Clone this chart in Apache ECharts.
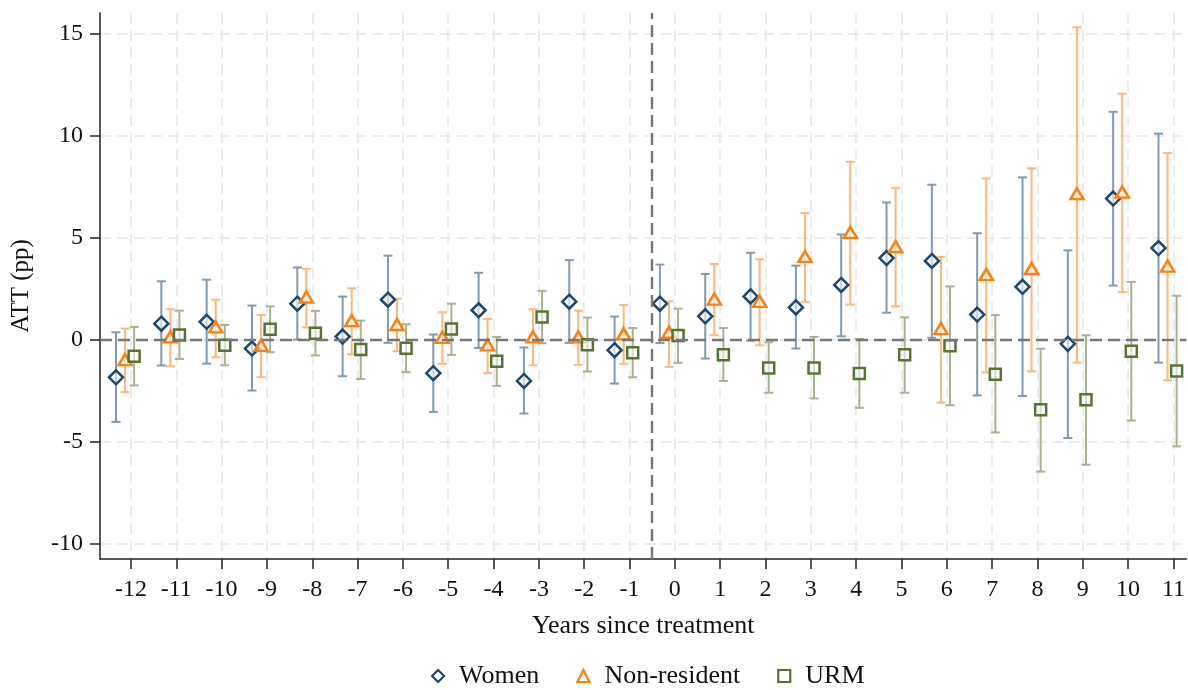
<!DOCTYPE html>
<html><head><meta charset="utf-8">
<script src="https://cdn.jsdelivr.net/npm/echarts@6/dist/echarts.min.js"></script>
<style>html,body{margin:0;padding:0;background:#fff}#c{width:1188px;height:690px}</style>
</head><body><div id="c"></div>
<script>
const years = [-12,-11,-10,-9,-8,-7,-6,-5,-4,-3,-2,-1,0,1,2,3,4,5,6,7,8,9,10,11];
const yTicks = [-10,-5,0,5,10,15];

const womenEst = [-1.85,0.78,0.87,-0.44,1.76,0.15,1.96,-1.65,1.44,-2.03,1.86,-0.52,1.76,1.14,2.12,1.58,2.68,4.00,3.86,1.23,2.59,-0.21,6.92,4.49];
const womenLo  = [-4.04,-1.27,-1.18,-2.50,0.00,-1.80,-0.16,-3.55,-0.41,-3.63,-0.16,-2.16,-0.17,-0.93,-0.05,-0.44,0.16,1.32,0.09,-2.74,-2.77,-4.83,2.65,-1.13];
const womenHi  = [0.36,2.86,2.94,1.67,3.54,2.11,4.12,0.25,3.28,-0.39,3.90,1.13,3.68,3.22,4.26,3.63,5.16,6.73,7.60,5.22,7.96,4.38,11.18,10.11];

const nrEst = [-0.98,0.13,0.62,-0.28,2.09,0.93,0.74,0.11,-0.26,0.13,0.13,0.28,0.36,1.99,1.88,4.08,5.26,4.57,0.54,3.20,3.49,7.16,7.24,3.61];
const nrLo  = [-2.58,-1.31,-0.87,-1.85,0.60,-0.72,-0.57,-1.19,-1.65,-1.26,-1.24,-1.19,-1.34,0.21,-0.28,1.85,1.72,1.63,-3.09,-1.61,-1.56,-1.13,2.33,-2.00];
const nrHi  = [0.54,1.49,1.96,1.21,3.48,2.52,2.01,1.34,1.01,1.49,1.42,1.70,1.88,3.71,3.94,6.21,8.73,7.45,4.06,7.91,8.41,15.33,12.07,9.16];

const urmEst = [-0.82,0.23,-0.28,0.51,0.31,-0.49,-0.42,0.52,-1.06,1.11,-0.25,-0.65,0.20,-0.74,-1.39,-1.39,-1.67,-0.75,-0.30,-1.70,-3.45,-2.95,-0.57,-1.54];
const urmLo  = [-2.25,-0.95,-1.26,-0.62,-0.78,-1.93,-1.60,-0.75,-2.27,-0.18,-1.57,-1.85,-1.14,-2.03,-2.61,-2.89,-3.35,-2.61,-3.22,-4.56,-6.48,-6.14,-3.97,-5.24];
const urmHi  = [0.62,1.42,0.72,1.63,1.41,0.93,0.75,1.76,0.13,2.39,1.08,0.57,1.52,0.57,-0.13,0.13,0.03,1.09,2.61,1.20,-0.45,0.21,2.83,2.15];

const FONT = '"Liberation Serif", "DejaVu Serif", serif';
const groups = [
  {name:'Women', est:womenEst, lo:womenLo, hi:womenHi, off:-0.33, color:'#1a476f', ci:'#8199b1', symbol:'diamond', size:14},
  {name:'Non-resident', est:nrEst, lo:nrLo, hi:nrHi, off:-0.13, color:'#ff7f0e', ci:'#ffb877', symbol:'triangle', size:[13,11]},
  {name:'URM', est:urmEst, lo:urmLo, hi:urmHi, off:0.07, color:'#55752f', ci:'#a3b48f', symbol:'rect', size:11}
];

function ciRenderer(color){
  return function(params, api){
    const x = api.value(0), lo = api.value(1), hi = api.value(2);
    const a = api.coord([x, lo]), b = api.coord([x, hi]);
    const hw = 4.5;
    const st = {stroke:color, lineWidth:2};
    return {type:'group', children:[
      {type:'line', shape:{x1:a[0], y1:a[1], x2:b[0], y2:b[1]}, style:st},
      {type:'line', shape:{x1:a[0]-hw, y1:a[1], x2:a[0]+hw, y2:a[1]}, style:st},
      {type:'line', shape:{x1:b[0]-hw, y1:b[1], x2:b[0]+hw, y2:b[1]}, style:st}
    ]};
  };
}

const series = [];
series.push({
  type:'scatter', data:[], z:1, silent:true,
  markLine:{silent:true, symbol:'none', label:{show:false},
    lineStyle:{color:'#777777', type:[12,6], width:2.4},
    data:[{yAxis:0},{xAxis:-0.5}]}
});
groups.forEach(g => {
  series.push({
    type:'custom', z:2, silent:true,
    renderItem: ciRenderer(g.ci),
    data: years.map((y,i) => [y + g.off, g.lo[i], g.hi[i]])
  });
});
groups.forEach(g => {
  series.push({
    name:g.name, type:'scatter', z:3, symbol:g.symbol, symbolSize:g.size,
    itemStyle:{color:'rgba(255,255,255,0.55)', borderColor:g.color, borderWidth:2.5, opacity:1},
    data: years.map((y,i) => [y + g.off, g.est[i]])
  });
});

const chart = echarts.init(document.getElementById('c'), null, {renderer:'canvas'});
chart.setOption({
  animation:false,
  backgroundColor:'#fff',
  grid:{left:100, right:0, top:13, bottom:131, containLabel:false},
  xAxis:{
    type:'value', min:-12.683, max:11.286,
    name:'Years since treatment', nameLocation:'middle', nameGap:54,
    nameTextStyle:{fontFamily:FONT, fontSize:26, color:'#111'},
    axisLine:{show:true, onZero:false, lineStyle:{color:'#222', width:1.5}},
    axisTick:{show:true, length:10, customValues:years, lineStyle:{color:'#222', width:1.5}},
    axisLabel:{customValues:years, margin:19, fontFamily:FONT, fontSize:24, color:'#111'},
    splitLine:{show:true, lineStyle:{color:'#e6e6e6', type:[11,6], width:1.5}}
  },
  yAxis:{
    type:'value', min:-10.77, max:16.03,
    name:'ATT (pp)', nameLocation:'middle', nameGap:66,
    nameTextStyle:{fontFamily:FONT, fontSize:25, color:'#111'},
    axisLine:{show:true, onZero:false, lineStyle:{color:'#222', width:1.5}},
    axisTick:{show:true, length:10, customValues:yTicks, lineStyle:{color:'#222', width:1.5}},
    axisLabel:{customValues:yTicks, margin:17, fontFamily:FONT, fontSize:24, color:'#111'},
    splitLine:{show:true, lineStyle:{color:'#e6e6e6', type:[11,6], width:1.5}}
  },
  legend:{
    data:groups.map(g => g.name),
    top:663, left:431, padding:0,
    itemWidth:12, itemHeight:12, itemGap:37,
    itemStyle:{borderWidth:2.2},
    textStyle:{fontFamily:FONT, fontSize:26, color:'#111', padding:[0,0,0,10]}
  },
  series: series
});
</script>
</body></html>
